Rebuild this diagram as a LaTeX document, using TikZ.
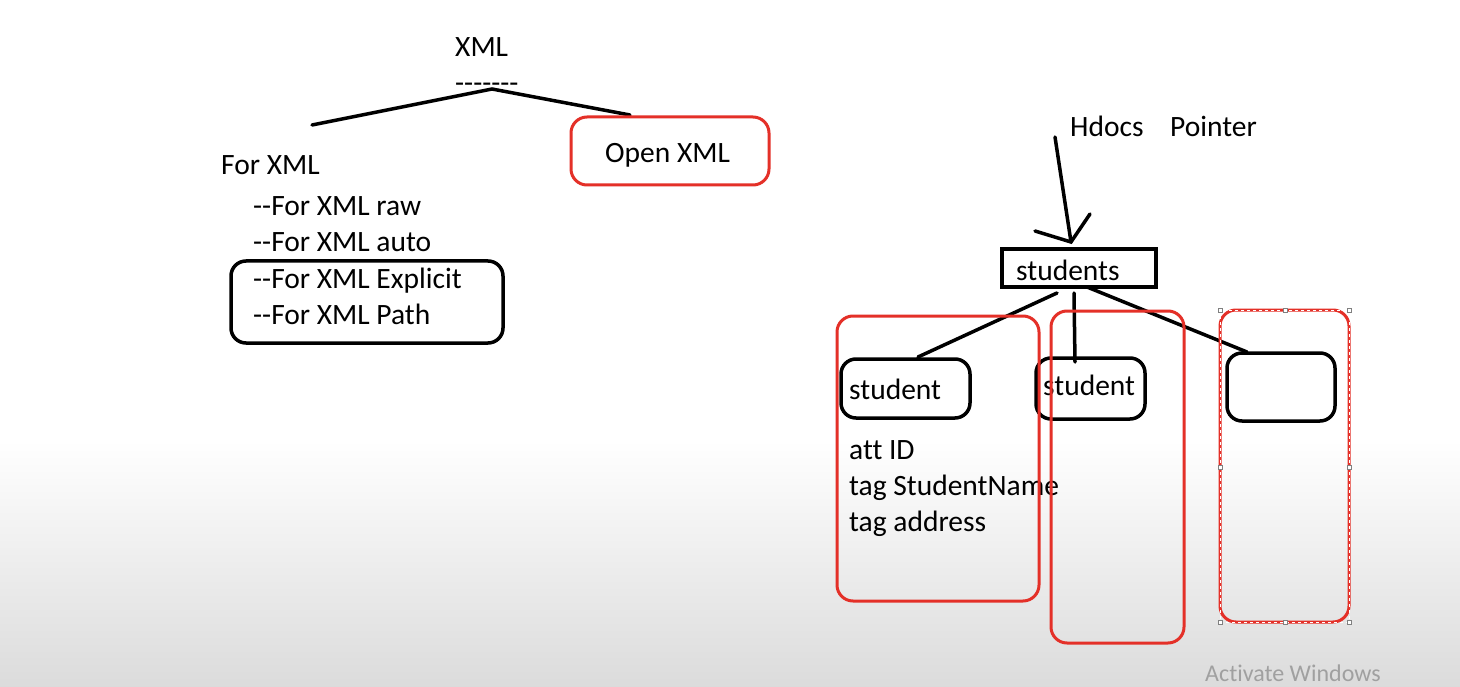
\documentclass[tikz,border=0pt]{standalone}
\usepackage{fontspec}
\setmainfont{Carlito}[Ligatures={TeXOff,NoCommon}]
\definecolor{redline}{RGB}{228,48,40}
\definecolor{wmgray}{RGB}{160,160,160}
\begin{document}
\begin{tikzpicture}[x=1pt,y=-1pt,
  txt/.style={anchor=base west,inner sep=0pt,font=\fontsize{29.5}{32}\selectfont},
  blk/.style={draw=black,line width=3.5pt,line cap=round},
  rbox/.style={draw=redline,line width=3pt,rounded corners=16pt},
  bbox/.style={draw=black,line width=3.5pt,rounded corners=15pt},
  handle/.style={draw=gray,fill=white,line width=0.6pt,minimum size=4pt,inner sep=0pt}]
\useasboundingbox (0,0) rectangle (1460,687);
\fill[white] (0,0) rectangle (1460,440);
\shade[top color=white,bottom color=black!14] (0,440) rectangle (1460,687);
% left tree
\node[txt] (xml) at (455,57) {XML};
\node[txt] (dash) at (455,93) {-------};
\coordinate (apex) at (492,89);
\coordinate (lend) at (312,125);
\coordinate (rend) at (630,115);
\draw[blk] (lend) -- (apex) -- (rend);
\node[txt] (forxml) at (221,175) {For XML};
\node[txt] (raw) at (253,216) {--For XML raw};
\node[txt] (auto) at (253,252) {--For XML auto};
\node[txt] (expl) at (253,288) {--For XML Explicit};
\node[txt] (path) at (253,324) {--For XML Path};
\draw[bbox] (231,261) rectangle (503,343);
\draw[rbox] (571,117) rectangle (769,185);
\node[txt] (open) at (605,163) {Open XML};
% right tree
\node[txt] (hdocs) at (1070,137) {Hdocs};
\node[txt] (pointer) at (1170,137) {Pointer};
\coordinate (shaft) at (1055,137);
\coordinate (tip) at (1071,242);
\coordinate (hl) at (1035,231);
\coordinate (hr) at (1090,214);
\draw[blk] (shaft) -- (tip);
\draw[blk] (hl) -- (tip) -- (hr);
\draw[draw=black,line width=4pt] (1002,249) rectangle (1156,287);
\node[txt] (students) at (1016,281) {students};
\draw[bbox] (841,359) rectangle (970,418);
\node[txt] (s1) at (849,399) {student};
\draw[bbox] (1036,358) rectangle (1145,419);
\node[txt] (s2) at (1043,395) {student};
\draw[bbox] (1227,353) rectangle (1335,421);
\coordinate (b1) at (1057,293);
\coordinate (b2) at (1074,293);
\coordinate (b3) at (1087,287);
\draw[blk] (b1) -- (918,357);
\draw[blk] (b2) -- (1075,362);
\draw[blk] (b3) -- (1247,352);
\node[txt] (att) at (849,459) {att ID};
\node[txt] (tsn) at (849,495) {tag StudentName};
\node[txt] (tad) at (849,531) {tag address};
\draw[rbox] (837,316) rectangle (1039,601);
\draw[rbox] (1051,311) rectangle (1184,643);
\draw[rbox] (1220,310) rectangle (1349,622);
\draw[white,line width=0.6pt,dashed] (1220,310) rectangle (1349,622);
\foreach \p in {(1220,310),(1285,310),(1349,310),(1220,467),(1349,467),(1220,622),(1285,622),(1349,622)}
  \node[handle] at \p {};
\node[anchor=base west,inner sep=0pt,text=wmgray,font=\fontsize{24}{26}\selectfont] (wm) at (1205,681) {Activate Windows};
\end{tikzpicture}
\end{document}
